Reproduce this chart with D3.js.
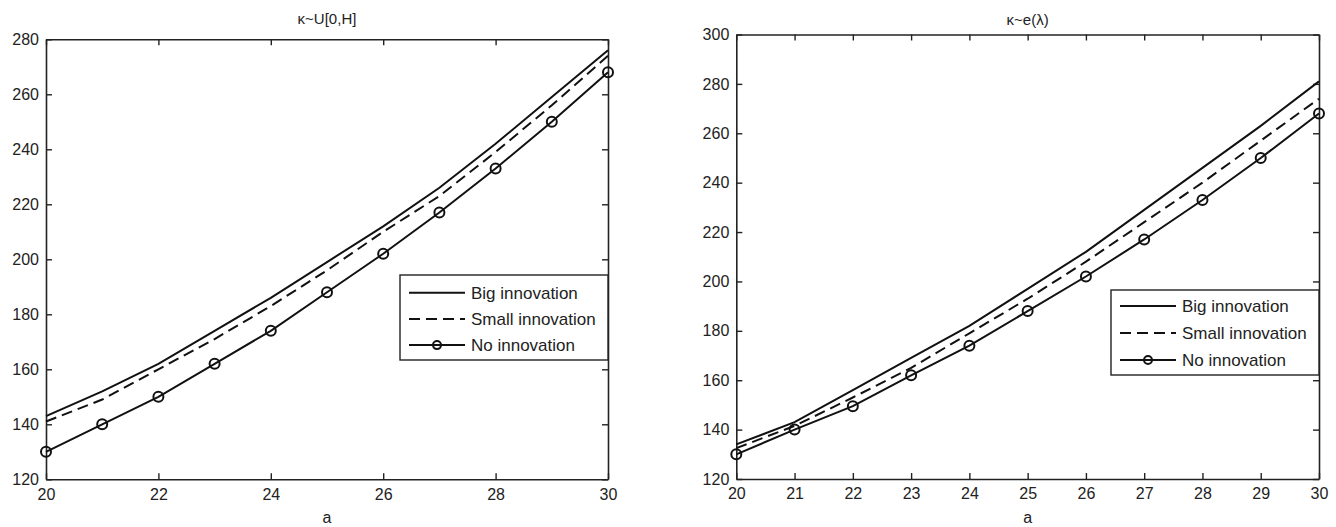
<!DOCTYPE html>
<html>
<head>
<meta charset="utf-8">
<script src="https://cdn.jsdelivr.net/npm/d3@7/dist/d3.min.js"></script>
<style>
  html, body { margin: 0; padding: 0; background: #fff; }
  svg { display: block; }
  text { font-family: "Liberation Sans", Arial, sans-serif; fill: #222; }
</style>
</head>
<body>
<svg id="chart" width="1336" height="527"></svg>
<script>
// ---- Data ----
const xValues = [20, 21, 22, 23, 24, 25, 26, 27, 28, 29, 30];

// Left panel: kappa ~ U[0,H]
const leftBig   = [143, 152, 162, 174, 186, 199, 212, 226, 242, 259, 276];
const leftSmall = [141, 149, 160, 171, 183, 196, 210, 223, 239, 256, 274];
const leftNo    = [130, 140, 150, 162, 174, 188, 202, 217, 233, 250, 268];

// Right panel: kappa ~ e(lambda)
const rightBig   = [134, 143, 156, 169, 182, 197, 212, 229, 246, 263, 281];
const rightSmall = [132.5, 141.5, 153, 165, 179, 193, 208, 224, 240, 257, 274];
const rightNo    = [130, 140, 149.5, 162, 174, 188, 202, 217, 233, 250, 268];

const leftXTicks  = [20, 22, 24, 26, 28, 30];
const leftYTicks  = [120, 140, 160, 180, 200, 220, 240, 260, 280];
const rightXTicks = [20, 21, 22, 23, 24, 25, 26, 27, 28, 29, 30];
const rightYTicks = [120, 140, 160, 180, 200, 220, 240, 260, 280, 300];

const seriesNames = ["Big innovation", "Small innovation", "No innovation"];
const titles = ["κ~U[0,H]", "κ~e(λ)"];
const xLabel = "a";

// ---- Drawing ----
const svg = d3.select("#chart");

const panels = [
  { title: titles[0], x0: 46, x1: 608, y0: 39.3, y1: 479.3, yDomain: [120, 280],
    xTicks: leftXTicks, yTicks: leftYTicks, series: [leftBig, leftSmall, leftNo],
    legend: { x: 400, y: 275, w: 208, h: 85, row0: 17.7, rowGap: 26.2 }, titleY: 24 },
  { title: titles[1], x0: 736.3, x1: 1319, y0: 34.5, y1: 479, yDomain: [120, 300],
    xTicks: rightXTicks, yTicks: rightYTicks, series: [rightBig, rightSmall, rightNo],
    legend: { x: 1111, y: 290, w: 208, h: 85, row0: 16, rowGap: 27 }, titleY: 25 }
];

const styles = [
  { dash: null, marker: false },
  { dash: "11,6", marker: false },
  { dash: null, marker: true }
];

panels.forEach(p => {
  const x = d3.scaleLinear().domain([20, 30]).range([p.x0, p.x1]);
  const y = d3.scaleLinear().domain(p.yDomain).range([p.y1, p.y0]);
  const g = svg.append("g");
  const tickLen = 6;

  // Box axes with inward ticks (MATLAB style)
  const axB = d3.axisBottom(x).tickValues(p.xTicks).tickSizeInner(-tickLen).tickSizeOuter(0).tickPadding(9).tickFormat(d3.format("d"));
  const axT = d3.axisTop(x).tickValues(p.xTicks).tickSizeInner(-tickLen).tickSizeOuter(0).tickFormat("");
  const axL = d3.axisLeft(y).tickValues(p.yTicks).tickSizeInner(-tickLen).tickSizeOuter(0).tickPadding(7).tickFormat(d3.format("d"));
  const axR = d3.axisRight(y).tickValues(p.yTicks).tickSizeInner(-tickLen).tickSizeOuter(0).tickFormat("");

  const styleAxis = sel => {
    sel.selectAll("path").attr("stroke", "#222").attr("stroke-width", 1.6);
    sel.selectAll("line").attr("stroke", "#222").attr("stroke-width", 1.4);
    sel.selectAll("text").style("font-size", "16px").attr("fill", "#222")
      .style("font-family", '"Liberation Sans", Arial, sans-serif');
  };

  g.append("g").attr("transform", `translate(0,${p.y1})`).call(axB).call(styleAxis);
  g.append("g").attr("transform", `translate(0,${p.y0})`).call(axT).call(styleAxis);
  g.append("g").attr("transform", `translate(${p.x0},0)`).call(axL).call(styleAxis);
  g.append("g").attr("transform", `translate(${p.x1},0)`).call(axR).call(styleAxis);

  // Lines
  const line = d3.line().x((d, i) => x(xValues[i])).y(d => y(d));
  p.series.forEach((s, k) => {
    g.append("path").datum(s).attr("d", line)
      .attr("fill", "none").attr("stroke", "#111").attr("stroke-width", 2)
      .attr("stroke-dasharray", styles[k].dash);
    if (styles[k].marker) {
      g.selectAll(null).data(s).enter().append("circle")
        .attr("cx", (d, i) => x(xValues[i])).attr("cy", d => y(d))
        .attr("r", 5).attr("fill", "none").attr("stroke", "#111").attr("stroke-width", 2);
    }
  });

  // Title
  g.append("text").attr("x", (p.x0 + p.x1) / 2).attr("y", p.titleY)
    .attr("text-anchor", "middle").style("font-size", "15px").text(p.title);

  // X label
  g.append("text").attr("x", (p.x0 + p.x1) / 2).attr("y", 523)
    .attr("text-anchor", "middle").style("font-size", "16px").text(xLabel);

  // Legend
  const L = p.legend;
  const lg = g.append("g").attr("transform", `translate(${L.x},${L.y})`);
  lg.append("rect").attr("width", L.w).attr("height", L.h)
    .attr("fill", "#fff").attr("stroke", "#222").attr("stroke-width", 1.4);
  seriesNames.forEach((name, k) => {
    const cy = L.row0 + k * L.rowGap;
    lg.append("line").attr("x1", 9).attr("x2", 65).attr("y1", cy).attr("y2", cy)
      .attr("stroke", "#111").attr("stroke-width", 2)
      .attr("stroke-dasharray", styles[k].dash);
    if (styles[k].marker) {
      lg.append("circle").attr("cx", 37).attr("cy", cy).attr("r", 4)
        .attr("fill", "none").attr("stroke", "#111").attr("stroke-width", 2);
    }
    lg.append("text").attr("x", 71).attr("y", cy).attr("dy", "0.35em")
      .style("font-size", "17px").text(name);
  });
});
</script>
</body>
</html>
